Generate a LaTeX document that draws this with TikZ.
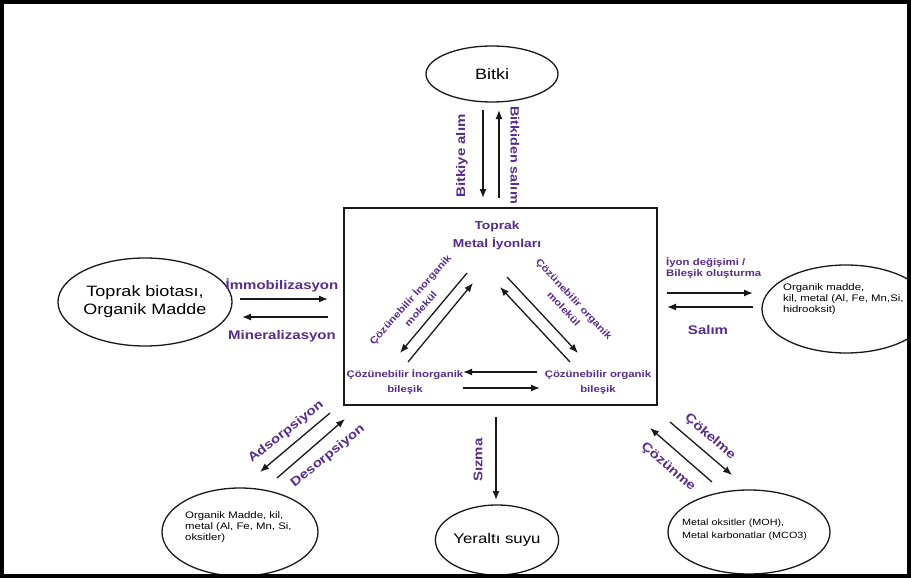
\documentclass[tikz,border=0pt]{standalone}
\usepackage{fontspec}
\setmainfont{Liberation Sans}[FakeStretch=1.2]
\usetikzlibrary{arrows.meta,shapes.geometric}
\definecolor{colorlabel}{RGB}{88,44,140}
\definecolor{colorline} {RGB}{25,25,25}

\begin{document}
\begin{tikzpicture}[
    x=1pt, y=-1pt,
    pool/.style={draw=colorline,ellipse,line width=1.3pt,inner sep=0pt},
    bigtext/.style={font={\fontsize{15}{18}\selectfont},align=center},
    smalltext/.style={font={\fontsize{9.5}{11}\selectfont},align=left,inner sep=0pt},
    proc/.style={text=colorlabel,font={\bfseries\fontsize{12.5}{15}\selectfont},inner sep=0pt},
    tiny/.style={text=colorlabel,font={\bfseries\fontsize{9.5}{15}\selectfont},align=center,inner sep=0pt},
    slant/.style={tiny,font={\bfseries\fontsize{9.5}{14}\selectfont}},
    flow/.style={-{Latex[length=9pt,width=7pt]},line width=1.3pt,draw=colorline},
]

    \fill[white] (0,0) rectangle (911,578);
    \useasboundingbox (0,0) rectangle (911,578);

    % pools round the soil
    \node[pool,minimum width=132pt,minimum height=56pt,bigtext] (bitki) at (492,74) {Bitki};
    \node[pool,minimum width=156pt,minimum height=88pt,bigtext] (biota) at (145,302) {Toprak biotası,\\Organik Madde};
    \node[pool,minimum width=168pt,minimum height=88pt] (kil) at (846,309) {};
    \node[smalltext,anchor=west] (kiltext) at (783,299) {Organik madde,\\kil, metal (Al, Fe, Mn,Si,\\hidrooksit)};
    \node[pool,minimum width=156pt,minimum height=88pt] (oksit) at (240,532) {};
    \node[smalltext,anchor=west] (oksittext) at (185,527) {Organik Madde, kil,\\metal (Al, Fe, Mn, Si,\\oksitler)};
    \node[pool,minimum width=116pt,minimum height=70pt,font={\fontsize{14}{17}\selectfont}] (su) at (497,540) {Yeraltı suyu};
    \node[pool,minimum width=162pt,minimum height=84pt] (karbon) at (749,532) {};
    \node[smalltext,anchor=west,font={\fontsize{9}{13}\selectfont}] (karbontext) at (682,530) {Metal oksitler (MOH),\\Metal karbonatlar (MCO3)};

    % soil box
    \node[draw=colorline,line width=1.5pt,minimum width=313pt,minimum height=197pt,inner sep=0pt] (toprak) at (500.5,306.5) {};
    \node[tiny,font={\bfseries\fontsize{11.5}{18}\selectfont}] (iyon) at (497,236) {Toprak\\Metal İyonları};
    \node[tiny] (inorg) at (405,382) {Çözünebilir İnorganik\\bileşik};
    \node[tiny] (org) at (598,383) {Çözünebilir organik\\bileşik};
    \node[slant,rotate=48] (molinorg) at (415,304) {Çözünebilir İnorganik\\molekül};
    \node[slant,rotate=-47] (molorg) at (569,304) {Çözünebilir organik\\molekül};

    % arrow ends
    \coordinate (a1) at (467,273); \coordinate (a2) at (400,353);
    \coordinate (b1) at (408,362); \coordinate (b2) at (473,283);
    \coordinate (c1) at (507,277); \coordinate (c2) at (578,353);
    \coordinate (d1) at (570,362); \coordinate (d2) at (500,287);
    \coordinate (e1) at (537,372); \coordinate (e2) at (463,372);
    \coordinate (f1) at (463,388); \coordinate (f2) at (540,388);
    \draw[flow] (a1) -- (a2);
    \draw[flow] (b1) -- (b2);
    \draw[flow] (c1) -- (c2);
    \draw[flow] (d1) -- (d2);
    \draw[flow] (e1) -- (e2);
    \draw[flow] (f1) -- (f2);

    \coordinate (up1) at (483,110); \coordinate (up2) at (483,198);
    \coordinate (up3) at (499,198); \coordinate (up4) at (499,110);
    \coordinate (le1) at (240,299); \coordinate (le2) at (328,299);
    \coordinate (le3) at (328,317); \coordinate (le4) at (242,317);
    \coordinate (ri1) at (667,293); \coordinate (ri2) at (753,293);
    \coordinate (ri3) at (753,307); \coordinate (ri4) at (667,307);
    \coordinate (bl1) at (330,413); \coordinate (bl2) at (260,472);
    \coordinate (bl3) at (277,478); \coordinate (bl4) at (345,419);
    \coordinate (dn1) at (496,417); \coordinate (dn2) at (496,500);
    \coordinate (br1) at (670,422); \coordinate (br2) at (732,475);
    \coordinate (br3) at (712,482); \coordinate (br4) at (650,428);
    \draw[flow] (up1) -- (up2);
    \draw[flow] (up3) -- (up4);
    \draw[flow] (le1) -- (le2);
    \draw[flow] (le3) -- (le4);
    \draw[flow] (ri1) -- (ri2);
    \draw[flow] (ri3) -- (ri4);
    \draw[flow] (bl1) -- (bl2);
    \draw[flow] (bl3) -- (bl4);
    \draw[flow] (dn1) -- (dn2);
    \draw[flow] (br1) -- (br2);
    \draw[flow] (br3) -- (br4);

    % process names
    \node[proc,rotate=90] (alim) at (462,156) {Bitkiye alım};
    \node[proc,rotate=-90,font={\bfseries\fontsize{12}{15}\selectfont}] (salim) at (515,155) {Bitkiden salım};
    \node[proc] (immo) at (282,285) {İmmobilizasyon};
    \node[proc] (mine) at (282,336) {Mineralizasyon};
    \node[tiny,align=left,anchor=west,font={\bfseries\fontsize{9.5}{11}\selectfont}] (degisim) at (666,268) {İyon değişimi /\\Bileşik oluşturma};
    \node[proc] (salim2) at (708,330) {Salım};
    \node[proc,rotate=38] (ads) at (286,432) {Adsorpsiyon};
    \node[proc,rotate=39] (des) at (328,456) {Desorpsiyon};
    \node[proc,rotate=90] (sizma) at (478,460) {Sızma};
    \node[proc,rotate=-41] (cokel) at (710,437) {Çökelme};
    \node[proc,rotate=-41] (cozun) at (668,467) {Çözünme};

    % frame
    \draw[line width=4pt] (2,2) rectangle (909,576);

\end{tikzpicture}
\end{document}
